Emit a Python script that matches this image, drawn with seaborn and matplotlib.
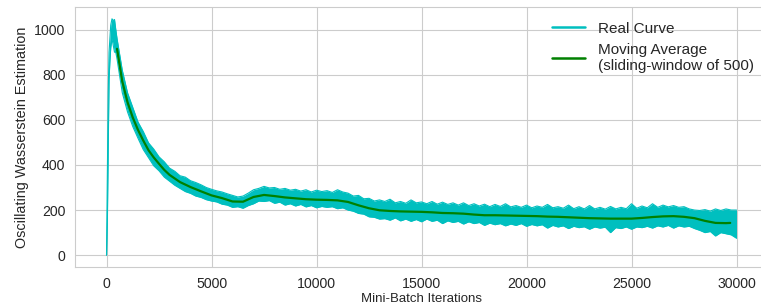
"""
Oscillating Wasserstein estimate over mini-batch iterations,
raw curve (band) plus its 500-step moving average.
"""
import matplotlib
matplotlib.use("Agg")
import matplotlib.pyplot as plt
import seaborn as sns

# --- data ---
# raw curve, drawn as its upper / lower envelope
real_iters = [0, 40, 80, 120, 160, 200, 260, 320, 380, 440, 500, 750,
              1000, 1250, 1500, 1750, 2000, 2250, 2500, 2750, 3000, 3250,
              3500, 3750, 4000, 4250, 4500, 4750, 5000, 5250, 5500, 5750,
              6000, 6250, 6500, 6750, 7000, 7250, 7500, 7750, 8000, 8250,
              8500, 8750, 9000, 9250, 9500, 9750, 10000, 10250, 10500, 10750,
              11000, 11250, 11500, 11750, 12000, 12250, 12500, 12750, 13000,
              13250, 13500, 13750, 14000, 14250, 14500, 14750, 15000, 15250,
              15500, 15750, 16000, 16250, 16500, 16750, 17000, 17250, 17500,
              17750, 18000, 18250, 18500, 18750, 19000, 19250, 19500, 19750,
              20000, 20250, 20500, 20750, 21000, 21250, 21500, 21750, 22000,
              22250, 22500, 22750, 23000, 23250, 23500, 23750, 24000, 24250,
              24500, 24750, 25000, 25250, 25500, 25750, 26000, 26250, 26500,
              26750, 27000, 27250, 27500, 27750, 28000, 28250, 28500, 28750,
              29000, 29250, 29500, 29750, 30000]
real_upper = [0, 350, 720, 900, 960, 1020, 1048, 1040, 1045, 1000, 960, 820,
              720, 655, 590, 548, 498, 470, 436, 414, 386, 372,
              352, 346, 330, 322, 312, 300, 292, 285, 280, 272,
              265, 258, 262, 275, 290, 296, 305, 298, 300, 292,
              296, 288, 292, 284, 290, 280, 288, 282, 286, 278,
              290, 280, 275, 262, 265, 250, 252, 240, 245,
              238, 248, 232, 238, 230, 245, 232, 236, 228,
              238, 226, 235, 225, 232, 222, 232, 220, 228,
              218, 226, 215, 225, 216, 228, 214, 220, 212,
              222, 210, 218, 212, 225, 210, 215, 208, 222,
              206, 215, 205, 220, 205, 212, 204, 216, 205,
              212, 206, 228, 208, 218, 210, 228, 212, 222,
              214, 220, 212, 215, 205, 200, 198, 202, 195,
              205, 198, 205, 200, 200]
real_lower = [0, 150, 480, 780, 860, 920, 960, 930, 900, 900, 870, 720,
              635, 570, 518, 468, 432, 396, 374, 346, 328, 310,
              296, 282, 274, 262, 256, 246, 240, 236, 226, 222,
              212, 215, 208, 220, 228, 240, 238, 242, 230, 235,
              222, 228, 218, 225, 214, 220, 210, 216, 212, 215,
              206, 210, 200, 195, 185, 182, 170, 168, 160,
              162, 155, 165, 152, 160, 150, 158, 148, 160,
              150, 155, 140, 152, 145, 150, 138, 148, 140,
              145, 132, 142, 135, 140, 130, 138, 132, 140,
              128, 136, 130, 135, 120, 132, 125, 130, 118,
              128, 122, 126, 115, 125, 120, 124, 100, 122,
              118, 125, 115, 125, 122, 128, 120, 130, 125,
              132, 120, 130, 125, 128, 118, 110, 100, 105,
              85, 100, 95, 90, 75]

# moving average (sliding window of 500)
ma_iters = [500, 750, 1000, 1250, 1500, 1750, 2000, 2250, 2500, 2750, 3000,
            3500, 4000, 4500, 5000, 5500, 6000, 6500, 7000, 7500, 8000,
            8500, 9000, 9500, 10000, 10500, 11000, 11500, 12000, 12500,
            13000, 13500, 14000, 14500, 15000, 15500, 16000, 16500, 17000,
            17500, 18000, 18500, 19000, 19500, 20000, 20500, 21000, 21500,
            22000, 22500, 23000, 23500, 24000, 24500, 25000, 25500, 26000,
            26500, 27000, 27500, 28000, 28500, 29000, 29500, 29700]
ma_values = [915, 770, 678, 610, 555, 508, 465, 433, 405, 378, 356,
             324, 302, 283, 265, 253, 238, 237, 258, 267, 262,
             256, 252, 248, 246, 245, 243, 236, 221, 208,
             199, 196, 194, 193, 192, 190, 187, 186, 184,
             180, 177, 177, 176, 175, 174, 173, 171, 170,
             168, 166, 164, 163, 162, 162, 162, 165, 169,
             172, 173, 170, 164, 152, 143, 142, 143]

sns.set_style("whitegrid")
plt.rcParams['font.family'] = ['Liberation Sans', 'DejaVu Sans']

fig = plt.figure(figsize=(7.61, 3.06), dpi=100)
ax = fig.add_axes([0.0986, 0.1275, 0.9106, 0.8497])

# real curve: envelope lines + filled band
sns.lineplot(x=real_iters, y=real_upper, color='c', lw=0.8, ax=ax,
             label='Real Curve')
sns.lineplot(x=real_iters, y=real_lower, color='c', lw=0.8, ax=ax)
ax.fill_between(real_iters, real_lower, real_upper, color='c', lw=0)

# moving average
sns.lineplot(x=ma_iters, y=ma_values, color='g', lw=1.6, ax=ax,
             label='Moving Average\n(sliding-window of 500)')

ax.set_xlabel('Mini-Batch Iterations', fontsize=9.5, labelpad=2)
ax.set_ylabel('Oscillating Wasserstein Estimation', fontsize=10.4)
ax.tick_params(labelsize=10.2)

leg = ax.legend(loc='upper right', frameon=False, fontsize=11,
                handlelength=2.15, bbox_to_anchor=(0.999, 0.997))
for line in leg.get_lines():
    line.set_linewidth(1.8)

plt.savefig('out.png', dpi=100)
plt.close()
